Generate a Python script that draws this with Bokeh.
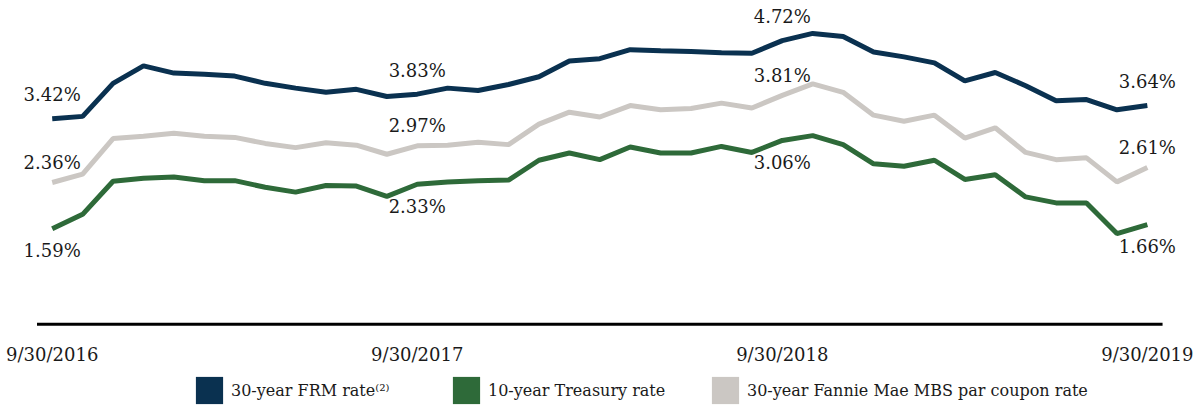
from bokeh.plotting import figure
from bokeh.models import ColumnDataSource, Legend, LegendItem
from bokeh.core.properties import value
from bokeh.embed import file_html
from bokeh.resources import INLINE

# ---- data (month-end values, 9/30/2016 .. 9/30/2019) ----
months = list(range(37))
frm_rate = [3.42, 3.46, 4.01, 4.30, 4.18, 4.16, 4.13, 4.01, 3.93, 3.86, 3.91, 3.79, 3.83,
            3.93, 3.89, 3.99, 4.12, 4.38, 4.42, 4.57, 4.55, 4.54, 4.52, 4.51, 4.72,
            4.84, 4.79, 4.53, 4.45, 4.35, 4.05, 4.19, 3.97, 3.72, 3.74, 3.57, 3.64]
mbs_rate = [2.36, 2.50, 3.09, 3.13, 3.18, 3.13, 3.11, 3.01, 2.94, 3.02, 2.98, 2.83, 2.97,
            2.98, 3.03, 2.99, 3.33, 3.53, 3.45, 3.64, 3.57, 3.59, 3.68, 3.60, 3.81,
            4.00, 3.86, 3.48, 3.38, 3.48, 3.10, 3.27, 2.86, 2.74, 2.77, 2.37, 2.61]
treasury_rate = [1.59, 1.83, 2.38, 2.43, 2.45, 2.39, 2.39, 2.28, 2.20, 2.31, 2.30, 2.13, 2.33,
                 2.37, 2.39, 2.40, 2.73, 2.85, 2.74, 2.95, 2.85, 2.85, 2.96, 2.86, 3.06,
                 3.14, 2.99, 2.67, 2.63, 2.73, 2.41, 2.49, 2.12, 2.02, 2.02, 1.51, 1.66]
tick_idx = [0, 12, 24, 36]
tick_labels = ["9/30/2016", "9/30/2017", "9/30/2018", "9/30/2019"]
label_idx = [0, 12, 24, 36]
series_names = ["30-year FRM rate\u207d\u00b2\u207e", "10-year Treasury rate",
                "30-year Fannie Mae MBS par coupon rate"]

NAVY = "#0a3150"
GREEN = "#2e6a39"
GRAY = "#cbc7c3"
TXT = "#1a1a1a"
FONT = "DejaVu Serif"

p = figure(width=1194, height=407, x_range=(-1.70, 37.55), y_range=(-1.384, 5.388),
           output_backend="svg", toolbar_location=None, min_border=0,
           x_axis_location=None, y_axis_location=None)
p.grid.visible = False
p.outline_line_color = None
p.background_fill_color = "white"
p.border_fill_color = "white"

# baseline
p.segment(x0=[months[0] - 0.5], x1=[months[-1] + 0.5], y0=[0], y1=[0],
          line_color="black", line_width=3)

# lines
p.line(months, mbs_rate, line_color=GRAY, line_width=5)
p.line(months, treasury_rate, line_color=GREEN, line_width=5)
p.line(months, frm_rate, line_color=NAVY, line_width=5)

# data labels
def add_labels(series, yoff):
    ys = [series[i] for i in label_idx]
    src = ColumnDataSource(dict(x=label_idx, y=ys, t=["%.2f%%" % v for v in ys]))
    p.text(x="x", y="y", text="t", source=src, y_offset=yoff, text_align="center",
           text_baseline="middle", text_font=value(FONT), text_font_size="18px",
           text_color=TXT)

add_labels(frm_rate, -24)
add_labels(mbs_rate, -20)
add_labels(treasury_rate, 22)

# tick labels
tsrc = ColumnDataSource(dict(x=tick_idx, y=[0] * len(tick_idx), t=tick_labels))
p.text(x="x", y="y", text="t", source=tsrc, text_align="center", y_offset=30,
       text_baseline="middle", text_font=value(FONT), text_font_size="18px", text_color=TXT)

# legend (square swatches from hidden helper quads)
series_list = [frm_rate, treasury_rate, mbs_rate]
colors = [NAVY, GREEN, GRAY]
locs = [(192, 0), (449, 0), (708, 0)]
for name, s, c, loc in zip(series_names, series_list, colors, locs):
    q = p.quad(left=months[:1], right=months[:1], top=s[:1], bottom=s[:1],
               fill_color=c, line_color=None, visible=False)
    leg = Legend(items=[LegendItem(label=name, renderers=[q])], location=loc,
                 orientation="horizontal", glyph_width=34, glyph_height=34,
                 label_standoff=5, padding=0, margin=0, border_line_color=None,
                 background_fill_alpha=0, label_text_font=FONT,
                 label_text_font_size="16px", label_text_color=TXT)
    p.add_layout(leg)

open("out.html", "w").write(file_html(p, INLINE))
